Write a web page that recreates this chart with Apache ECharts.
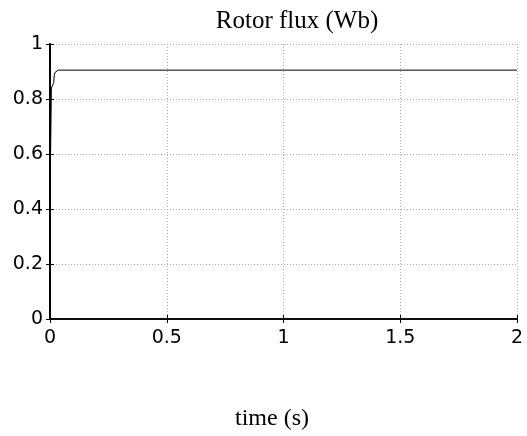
<!DOCTYPE html>
<html>
<head>
<meta charset="utf-8">
<script src="https://cdn.jsdelivr.net/npm/echarts@6/dist/echarts.min.js"></script>
<style>html,body{margin:0;padding:0;background:#fff;}#c{width:527px;height:436px;}</style>
</head>
<body>
<div id="c"></div>
<script>
var timeValues = [0, 0.004, 0.006, 0.012, 0.016, 0.018, 0.022, 0.028, 0.035, 2];
var fluxValues = [0.45, 0.70, 0.84, 0.845, 0.86, 0.885, 0.897, 0.903, 0.905, 0.905];
var xTicks = [0, 0.5, 1, 1.5, 2];
var yTicks = [0, 0.2, 0.4, 0.6, 0.8, 1];
var titleText = 'Rotor flux (Wb)';
var xName = 'time (s)';

var data = timeValues.map(function (t, i) { return [t, fluxValues[i]]; });
var chart = echarts.init(document.getElementById('c'), null, {renderer: 'canvas'});
var tickFont = {fontFamily: 'DejaVu Sans', fontSize: 19, color: '#000'};
var gridStyle = {show: true, lineStyle: {color: '#b0b0b0', type: [1, 2], width: 1}};
var axisLine = {show: true, lineStyle: {color: '#000', width: 1.5}};
var tickIn = {show: true, inside: true, length: 4, lineStyle: {color: '#000', width: 1}};
chart.setOption({
  animation: false,
  backgroundColor: '#fff',
  title: {
    text: titleText, left: 292, top: 4, textAlign: 'center',
    textStyle: {fontFamily: 'Liberation Serif', fontWeight: 'normal', fontSize: 25, color: '#000'}
  },
  grid: {left: 50, right: 10, top: 44, bottom: 103, containLabel: false},
  xAxis: [{
    type: 'value', min: xTicks[0], max: xTicks[xTicks.length - 1], interval: 0.5,
    axisLine: axisLine, axisTick: tickIn, splitLine: gridStyle,
    axisLabel: Object.assign({margin: 10}, tickFont),
    name: xName, nameLocation: 'middle', nameGap: 88,
    nameTextStyle: {fontFamily: 'Liberation Serif', fontSize: 24, color: '#000', padding: [0, 23, 0, 0]}
  }, {
    type: 'value', position: 'top', min: xTicks[0], max: xTicks[xTicks.length - 1], interval: 0.5,
    axisLine: axisLine, axisTick: tickIn, splitLine: {show: false}, axisLabel: {show: false}
  }],
  yAxis: [{
    type: 'value', min: yTicks[0], max: yTicks[yTicks.length - 1], interval: 0.2,
    axisLine: {show: true, lineStyle: {color: '#000', width: 2}}, axisTick: tickIn, splitLine: gridStyle,
    axisLabel: Object.assign({margin: 7}, tickFont)
  }, {
    type: 'value', position: 'right', min: yTicks[0], max: yTicks[yTicks.length - 1], interval: 0.2,
    axisLine: axisLine, axisTick: tickIn, splitLine: {show: false}, axisLabel: {show: false}
  }],
  series: [{
    type: 'line', data: data, xAxisIndex: 0, yAxisIndex: 0,
    showSymbol: false, symbol: 'none', smooth: false,
    lineStyle: {color: '#000', width: 1}
  }]
});
</script>
</body>
</html>
